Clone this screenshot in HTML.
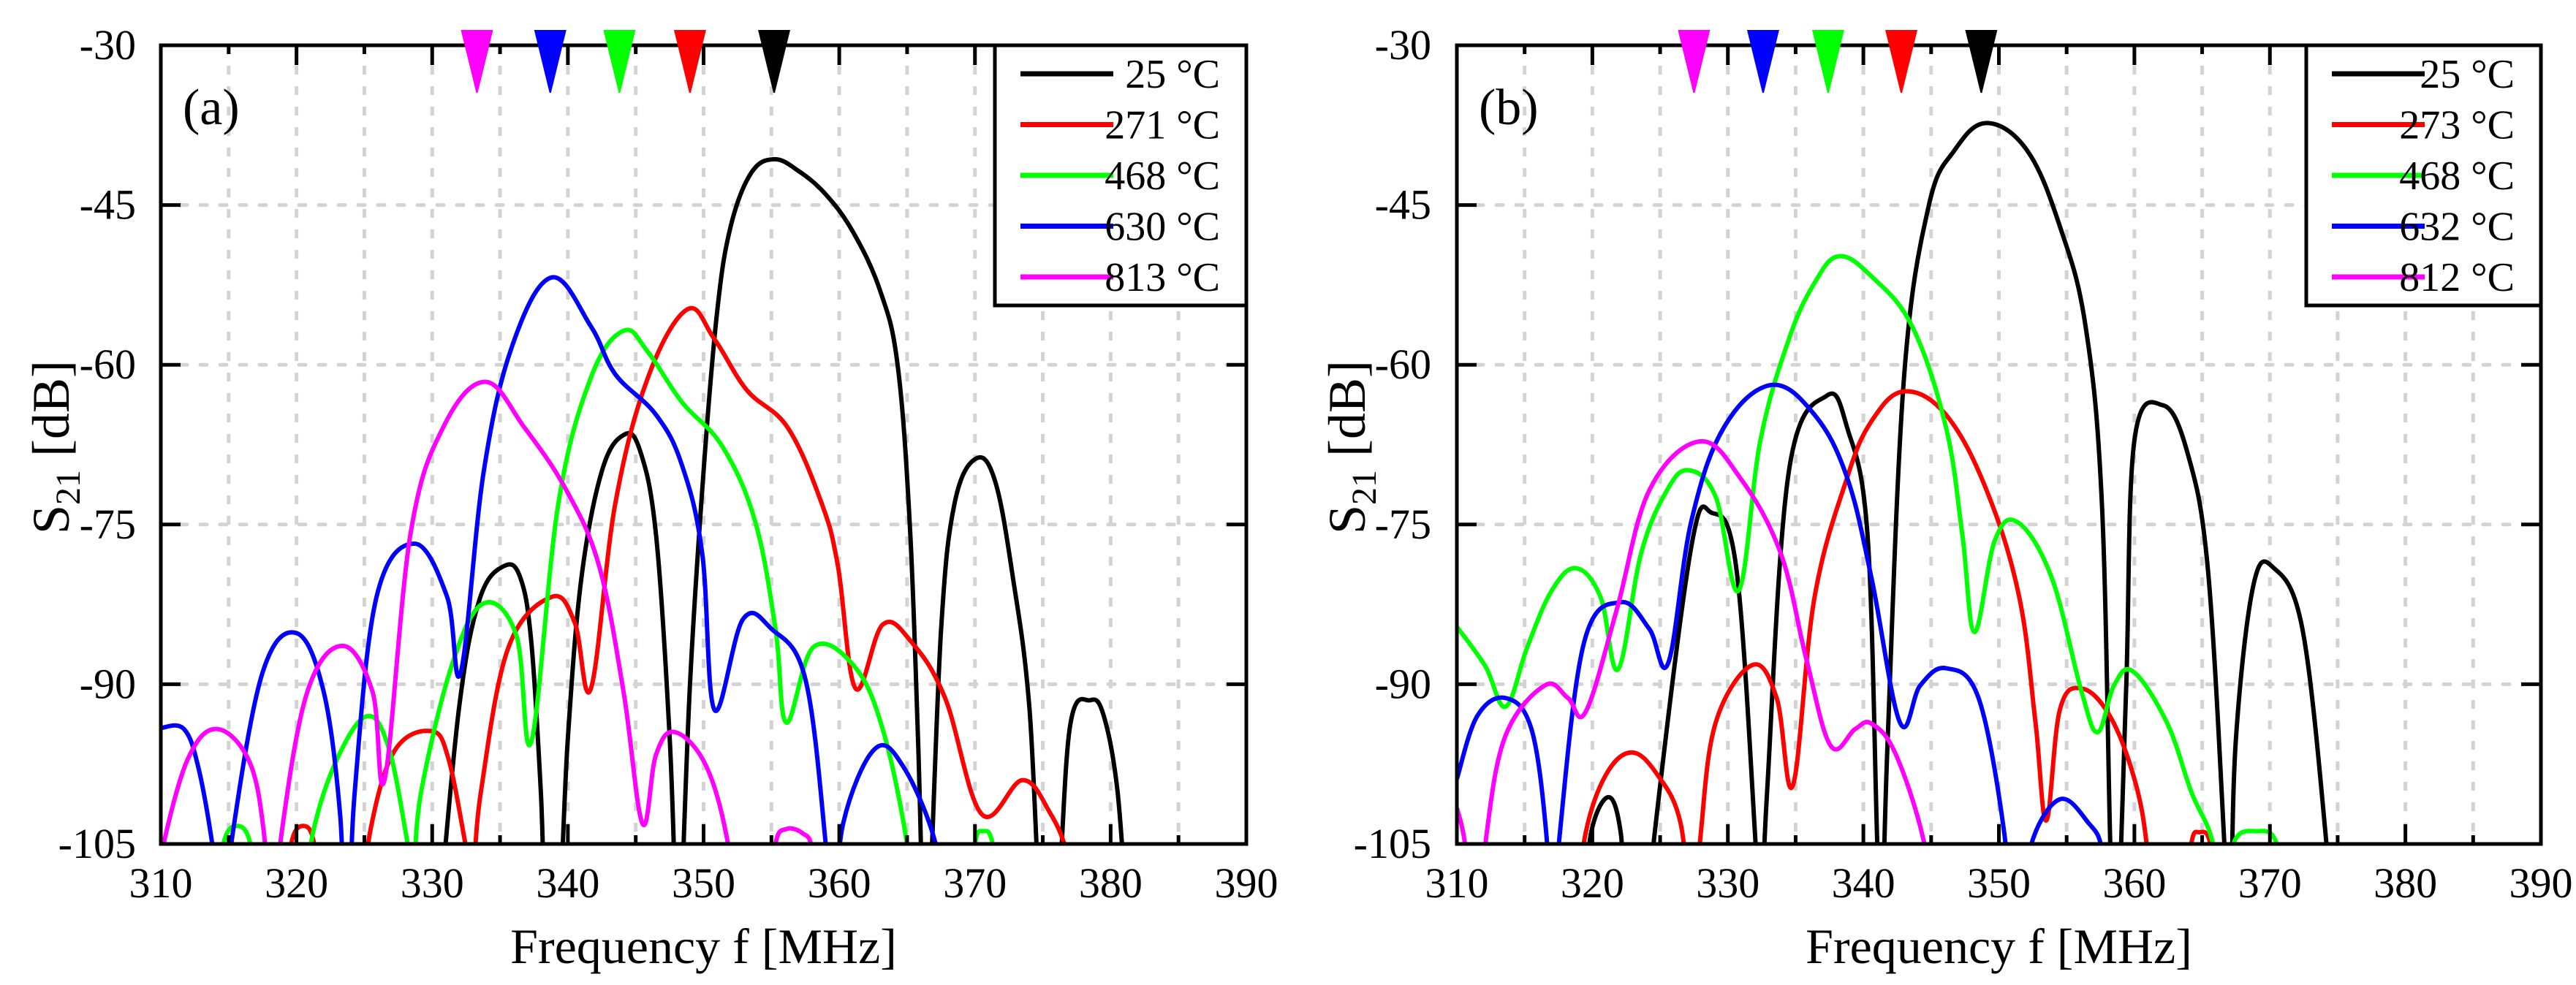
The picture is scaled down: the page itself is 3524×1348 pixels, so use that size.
<!DOCTYPE html>
<html><head><meta charset="utf-8"><style>
html,body{margin:0;padding:0;background:#fff;}
svg{display:block;font-family:"Liberation Serif",serif;}
</style></head><body>
<svg id="fig" width="3524" height="1348" viewBox="0 0 3524 1348" xmlns="http://www.w3.org/2000/svg">
<rect x="0" y="0" width="3524" height="1348" fill="#fff"/>
</svg>
<script>
// ---- data ----
const seriesNames = ["25 °C","271 °C","468 °C","630 °C","813 °C"];
const seriesNamesB = ["25 °C","273 °C","468 °C","632 °C","812 °C"];
const colors = ["#000000","#ff0000","#00ff00","#0000ff","#ff00ff"];
const xTicks = [310,320,330,340,350,360,370,380,390];
const yTicks = [-30,-45,-60,-75,-90,-105];
const markerA = [355.2,349.0,343.8,338.7,333.3];
const markerB = [348.7,342.8,337.4,332.6,327.5];

const a25 = [[330.5,-112],[332,-92],[333.5,-82],[335.3,-78.9],[336.5,-80],[337.3,-86],[338,-100],[338.4,-112],[339.3,-112],[340,-95],[341,-80],[342.5,-70],[344.1,-66.6],[345.3,-68],[346.5,-76],[347.5,-95],[348,-112],[348.3,-112],[349,-90],[350,-70],[351,-55],[352,-47],[353.5,-42],[355.2,-40.7],[357,-41.8],[359,-44],[361,-47.5],[363,-53],[364.3,-60],[365.2,-75],[365.8,-95],[366.2,-112],[366.6,-112],[367.5,-85],[368.5,-73],[370.1,-68.8],[371.5,-71],[372.8,-80],[374,-92],[374.9,-112],[376,-112],[377,-94],[378.5,-91.5],[379.5,-93],[380.5,-100],[381.2,-112]];
const a271 = [[319,-112],[319.6,-105],[320.5,-103.3],[321.3,-105],[321.8,-112],[324.8,-112],[325.4,-104],[327.2,-96.3],[329.9,-94.4],[331.2,-97],[332.6,-106],[333.0,-108],[333.6,-100],[335.6,-86.6],[338.8,-81.8],[340.5,-84.2],[341.7,-90.4],[343.5,-73],[345.9,-61.2],[348.8,-54.8],[350.8,-57.6],[353.2,-62.4],[356.2,-65.9],[358.7,-73],[359.9,-78.9],[361.2,-90.4],[363.2,-84.4],[365.3,-86],[367.8,-91.3],[370.5,-102.2],[373.5,-99],[375.5,-102],[376.8,-106],[377.5,-112]];
const a468 = [[313.8,-112],[314.6,-105],[315.6,-103.3],[316.6,-105],[317.2,-112],[320.4,-112],[321.2,-104],[323,-97],[325.2,-93],[326.8,-96],[328.2,-105],[328.6,-108],[329.2,-100],[331.5,-88],[333.8,-82.4],[336.2,-85.4],[337.3,-95.4],[339.3,-73],[341.7,-61.2],[344.1,-56.8],[345.9,-58.8],[348.4,-63.5],[351.4,-67.7],[353.8,-74.7],[355.3,-84.8],[356.1,-93.6],[358.1,-86.5],[361.1,-88.3],[363.2,-94.2],[365,-105],[365.4,-112],[369.6,-112],[370.0,-105],[370.6,-103.8],[371.3,-105],[371.8,-112]];
const a630 = [[310,-94.1],[311.7,-94.2],[312.8,-98],[313.9,-106],[314.3,-112],[314.8,-112],[315.3,-104],[317.5,-88.9],[320,-85.2],[322,-90.7],[323.2,-102],[323.5,-112],[323.9,-112],[324.3,-100],[325.9,-81.8],[328.7,-76.8],[331.1,-81.8],[332.1,-88.9],[333.8,-70],[335.9,-58.2],[338.8,-51.8],[341.7,-56.4],[343.5,-60.9],[346.5,-64.7],[348.4,-69.4],[349.9,-77.7],[350.8,-92.4],[352.9,-83.9],[355,-84.8],[357.5,-89.5],[359,-105],[359.3,-112],[359.7,-112],[360.3,-103],[362.6,-96.1],[364.7,-97.7],[367.1,-105],[367.5,-112]];
const a813 = [[310.0,-108],[310.2,-105],[312,-97],[314.1,-94.2],[316.5,-97.2],[317.6,-104],[317.9,-112],[318.5,-112],[318.9,-104],[320.8,-90.7],[323.4,-86.4],[325.6,-90.7],[326.5,-98.9],[328.4,-75.9],[330.8,-65.9],[333.9,-61.6],[336.8,-65.9],[339.9,-71.8],[342.3,-78.9],[344.1,-90.7],[345.5,-103.1],[346.5,-96.6],[347.9,-94.5],[350.2,-97.7],[351.8,-105],[352.2,-112],[354.8,-112],[355.3,-105],[356.1,-103.6],[357.3,-104],[358,-105.5],[358.5,-112]];

const b25 = [[319.4,-112],[319.9,-104],[321.2,-100.6],[322.1,-104],[322.5,-112],[324.2,-112],[324.6,-104],[327.3,-77.1],[328.8,-73.9],[330.6,-78.9],[332.0,-104],[332.2,-112],[332.5,-112],[332.9,-100],[334.5,-70],[337.3,-62.9],[338.8,-65.9],[340.3,-75.9],[341.0,-104],[341.2,-112],[341.4,-112],[341.8,-95],[343,-61.2],[344.8,-45.2],[346.7,-39.9],[349.1,-37.3],[352.1,-39.9],[354.5,-47],[356.4,-56.4],[357.6,-73],[358.2,-104],[358.4,-112],[358.8,-112],[359.4,-90],[360,-67.1],[362.1,-63.8],[363.9,-68.2],[365.4,-78.9],[366.6,-104],[366.8,-112],[367.1,-112],[367.5,-95],[368.8,-80.6],[370.3,-79.1],[372.4,-84.8],[374.1,-104],[374.4,-112]];
const b273 = [[318.8,-112],[319.5,-104],[321,-98.5],[322.9,-96.4],[324.8,-98.5],[326.5,-103],[327.2,-112],[327.6,-112],[328,-104],[329.1,-93.6],[331.8,-88.2],[333.6,-91.3],[334.8,-99.5],[336.4,-81.8],[338.8,-70.6],[340.6,-65.3],[343,-62.5],[346.1,-64.7],[349.1,-71.8],[351.5,-81.8],[352.7,-93.6],[353.5,-102.8],[354.5,-92.4],[356.1,-90.4],[358.2,-93],[360,-98.9],[360.9,-105],[361.2,-112],[363.8,-112],[364.2,-105],[364.8,-103.9],[365.6,-105],[366.1,-112]];
const b468 = [[310,-84.6],[312.1,-88.3],[313.6,-92.1],[315.2,-86.5],[317,-81.2],[318.8,-79.1],[320.6,-81.8],[321.9,-88.6],[323.6,-77.7],[325.5,-71.8],[327.1,-69.9],[329.1,-72.4],[330.8,-81.2],[332.4,-67.1],[334.5,-57.6],[336.4,-52.3],[338.2,-49.8],[340.6,-51.7],[343.6,-56.4],[346.1,-65.9],[347.3,-75.9],[348.2,-85.1],[349.7,-76.5],[351.4,-74.8],[353.9,-80],[356.1,-90.7],[357.3,-94.5],[358.5,-90.1],[359.9,-88.8],[362.4,-93.6],[364.2,-100.1],[365.8,-105],[366.2,-112],[366.8,-112],[367.3,-105],[369,-103.8],[370.5,-105],[371.0,-112]];
const b632 = [[310,-98.9],[311.5,-93],[313.6,-91.3],[315.5,-94.2],[316.6,-104],[316.8,-112],[317.3,-112],[317.6,-104],[319.4,-86],[322.1,-82.3],[324.2,-84.8],[325.6,-88],[327.3,-74.7],[329.7,-65.9],[333.2,-61.9],[336.4,-64.7],[338.8,-70.6],[340.6,-80],[342.7,-93.6],[344.2,-90.1],[346.1,-88.5],[348.5,-91.3],[350.4,-104],[350.7,-112],[351.9,-112],[352.4,-105],[354.5,-100.8],[356.6,-103],[357.6,-105.5],[358,-112]];
const b812 = [[310,-101.6],[310.6,-105],[311,-112],[311.8,-112],[312.2,-104],[313.6,-94.8],[316.5,-90.1],[318.2,-91.3],[319.5,-92.6],[321.8,-83],[324.2,-71.8],[327.9,-67.2],[330.9,-70.6],[333.9,-77.7],[335.8,-87.7],[337.6,-95.8],[339.4,-94.2],[340.6,-93.7],[342.4,-96.6],[344.5,-105],[344.9,-112]];

const seriesA = [a25,a271,a468,a630,a813];
const seriesB = [b25,b273,b468,b632,b812];

// ---- drawing ----
const NS = "http://www.w3.org/2000/svg";
const svg = document.getElementById("fig");
const T = 62, B = 1155;
const X0 = 310, X1 = 390, Y0 = -105, Y1 = -30;

function mk(tag, attrs, parent){
  const e = document.createElementNS(NS, tag);
  for (const k in attrs) e.setAttribute(k, attrs[k]);
  (parent||svg).appendChild(e);
  return e;
}
function smoothPath(pts){
  let d = "M" + pts[0][0].toFixed(1) + "," + pts[0][1].toFixed(1);
  for (let i=0;i<pts.length-1;i++){
    const p0 = pts[Math.max(0,i-1)], p1 = pts[i], p2 = pts[i+1], p3 = pts[Math.min(pts.length-1,i+2)];
    const t = 0.18;
    const c1x = p1[0] + (p2[0]-p0[0])*t, c1y = p1[1] + (p2[1]-p0[1])*t;
    const c2x = p2[0] - (p3[0]-p1[0])*t, c2y = p2[1] - (p3[1]-p1[1])*t;
    d += " C" + c1x.toFixed(1)+","+c1y.toFixed(1)+" "+c2x.toFixed(1)+","+c2y.toFixed(1)+" "+p2[0].toFixed(1)+","+p2[1].toFixed(1);
  }
  return d;
}

function panel(id, L, R, series, names, markers, label, ytx, legL){
  const xs = f => L + (f - X0)/(X1 - X0)*(R - L);
  const ys = v => T + (Y1 - v)/(Y1 - Y0)*(B - T);
  const g = mk("g", {});
  
  
  const cp = mk("clipPath", {id:"clip"+id}, g);
  mk("rect", {x:L, y:T, width:R-L, height:B-T}, cp);
  // grid
  for (let f=315; f<390; f+=5){
    const gl = mk("line", {x1:xs(f), x2:xs(f), y1:T, y2:B, stroke:"#d3d3d3", "stroke-width":5, "stroke-dasharray":"12 16"}, g);
    
    
  }
  for (const v of [-45,-60,-75,-90]){
    const gl = mk("line", {x1:L, x2:R, y1:ys(v), y2:ys(v), stroke:"#d3d3d3", "stroke-width":5, "stroke-dasharray":"9 18", "stroke-linecap":"round"}, g);
    
    
  }
  // curves
  const cg = mk("g", {"clip-path":"url(#clip"+id+")"}, g);
  series.forEach((s, i) => {
    const pts = s.map(p => [xs(p[0]), ys(p[1])]);
    const p = mk("path", {d:smoothPath(pts), fill:"none", stroke:colors[i], "stroke-width":6, "stroke-linejoin":"round"}, cg);
    
    
  });
  // ticks
  xTicks.forEach(f => {
    mk("line", {x1:xs(f), x2:xs(f), y1:B, y2:B-27, stroke:"#000", "stroke-width":5}, g);
    mk("line", {x1:xs(f), x2:xs(f), y1:T, y2:T+27, stroke:"#000", "stroke-width":5}, g);
    if (f < 390){
      mk("line", {x1:xs(f+5), x2:xs(f+5), y1:B, y2:B-12, stroke:"#000", "stroke-width":5}, g);
      mk("line", {x1:xs(f+5), x2:xs(f+5), y1:T, y2:T+12, stroke:"#000", "stroke-width":5}, g);
    }
    const t = mk("text", {x:xs(f), y:1228, "font-size":58, "text-anchor":"middle"}, g);
    t.textContent = f;
    
    
  });
  yTicks.forEach(v => {
    mk("line", {x1:L, x2:L+27, y1:ys(v), y2:ys(v), stroke:"#000", "stroke-width":5}, g);
    mk("line", {x1:R, x2:R-27, y1:ys(v), y2:ys(v), stroke:"#000", "stroke-width":5}, g);
    const t = mk("text", {x:ytx, y:ys(v)+19, "font-size":58, "text-anchor":"end"}, g);
    t.textContent = v;
    
    
  });
  // frame
  const fr = mk("rect", {x:L, y:T, width:R-L, height:B-T, fill:"none", stroke:"#000", "stroke-width":5}, g);
  
  
  // legend
  const lg = mk("g", {}, g);
  
  
  mk("rect", {x:legL, y:T, width:R-legL, height:418-T, fill:"#fff", stroke:"#000", "stroke-width":5}, lg);
  names.forEach((n, i) => {
    const yy = 101 + i*69.5;
    const e = mk("g", {}, lg);
    
    
    mk("line", {x1:legL+35, x2:legL+162, y1:yy, y2:yy, stroke:colors[i], "stroke-width":7}, e);
    const t = mk("text", {x:R-36, y:yy+19, "font-size":56, "text-anchor":"end"}, e);
    t.textContent = n;
  });
  // markers
  markers.forEach((f, i) => {
    const x = xs(f);
    const m = mk("path", {d:"M"+(x-22)+",41 L"+(x+22)+",41 L"+(x+1)+",127 L"+(x-1)+",127 Z", fill:colors[i]}, g);
    
    
  });
  // panel label
  const pl = mk("text", {x:L+30, y:170, "font-size":70}, g);
  pl.textContent = label;
  
  
  // axis titles
  const xt = mk("text", {x:(L+R)/2, y:1318, "font-size":68, "text-anchor":"middle"}, g);
  xt.textContent = "Frequency f [MHz]";
  
  
  const yx = L - 150, yc = 612;
  const yt = mk("text", {x:0, y:0, "font-size":72, "text-anchor":"middle", transform:"translate("+(yx+24)+","+yc+") rotate(-90)"}, g);
  
  
  const s1 = mk("tspan", {}, yt); s1.textContent = "S";
  const s2 = mk("tspan", {"font-size":48, dy:15}, yt); s2.textContent = "21";
  const s3 = mk("tspan", {dy:-15}, yt); s3.textContent = " [dB]";
}

panel("a", 220, 1705, seriesA, seriesNames, markerA, "(a)", 186, 1361);
panel("b", 1993, 3476, seriesB, seriesNamesB, markerB, "(b)", 1958, 3155);
</script>
</body></html>
